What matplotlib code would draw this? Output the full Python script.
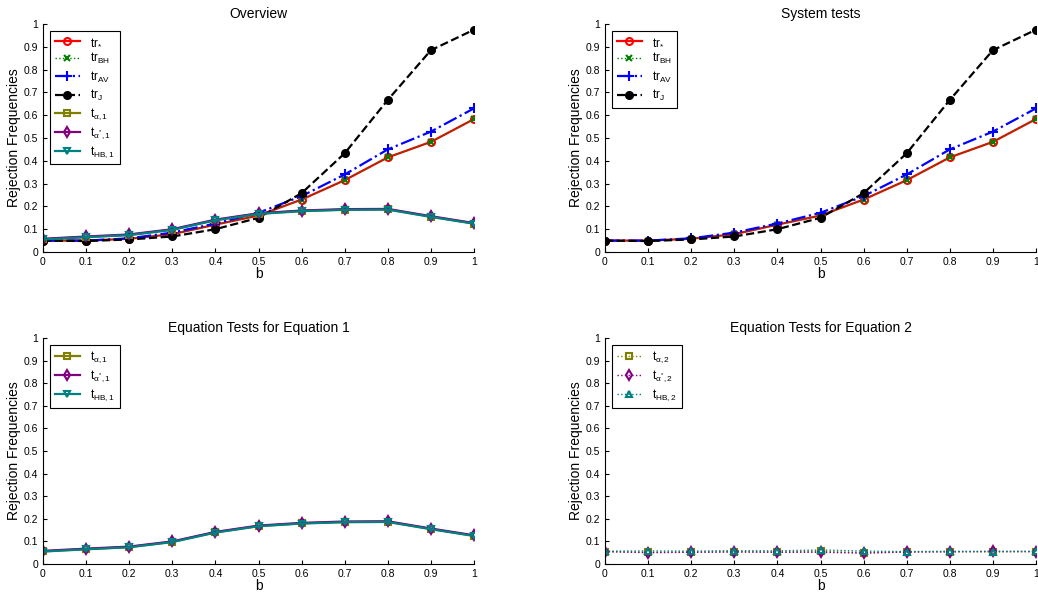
import matplotlib
matplotlib.use("Agg")
import matplotlib.pyplot as plt
import numpy as np

b = np.round(np.arange(0, 1.01, 0.1), 1)

# system test rejection frequencies
tr_star = [0.050, 0.050, 0.058, 0.078, 0.120, 0.160, 0.230, 0.315, 0.415, 0.483, 0.583]
tr_bh = [0.050, 0.050, 0.058, 0.078, 0.120, 0.160, 0.230, 0.315, 0.415, 0.483, 0.583]
tr_av = [0.050, 0.050, 0.060, 0.085, 0.125, 0.172, 0.245, 0.340, 0.450, 0.528, 0.630]
tr_j = [0.050, 0.048, 0.055, 0.068, 0.100, 0.150, 0.258, 0.433, 0.667, 0.885, 0.975]

# equation 1 tests
t_a1 = [0.056, 0.066, 0.075, 0.098, 0.140, 0.168, 0.180, 0.186, 0.187, 0.155, 0.125]
t_as1 = [0.058, 0.068, 0.077, 0.100, 0.142, 0.170, 0.182, 0.188, 0.189, 0.157, 0.127]
t_hb1 = [0.055, 0.065, 0.074, 0.097, 0.139, 0.167, 0.179, 0.185, 0.186, 0.154, 0.124]

# equation 2 tests
t_a2 = [0.055, 0.052, 0.053, 0.055, 0.053, 0.056, 0.050, 0.054, 0.055, 0.054, 0.055]
t_as2 = [0.055, 0.050, 0.052, 0.053, 0.052, 0.052, 0.048, 0.053, 0.054, 0.056, 0.055]
t_hb2 = [0.057, 0.058, 0.057, 0.059, 0.058, 0.062, 0.057, 0.055, 0.056, 0.055, 0.056]

plt.rcParams['font.family'] = ['Liberation Sans', 'DejaVu Sans']
plt.rcParams['mathtext.fontset'] = 'custom'
plt.rcParams['mathtext.rm'] = 'Liberation Sans'
plt.rcParams['mathtext.it'] = 'Liberation Sans'

OLIVE = '#808000'
PURPLE = '#800080'
TEAL = '#008080'

system_styles = [
    (tr_star, dict(color='red', ls='-', marker='o', mfc='none', label=r'tr$_{*}$')),
    (tr_bh, dict(color='green', ls=':', marker='x', ms=4, label=r'tr$_{\mathrm{BH}}$')),
    (tr_av, dict(color='blue', ls='-.', marker='+', ms=7, label=r'tr$_{\mathrm{AV}}$')),
    (tr_j, dict(color='black', ls='--', marker='o', mfc='black', label=r'tr$_{\mathrm{J}}$')),
]
eq1_styles = [
    (t_a1, dict(color=OLIVE, ls='-', marker='s', mfc='none', label=r't$_{\alpha,1}$')),
    (t_as1, dict(color=PURPLE, ls='-', marker='d', mfc='none', label=r't$_{\alpha^{*},1}$')),
    (t_hb1, dict(color=TEAL, ls='-', marker='v', mfc='none', label=r't$_{\mathrm{HB},1}$')),
]
eq2_styles = [
    (t_a2, dict(color=OLIVE, ls=':', marker='s', mfc='none', label=r't$_{\alpha,2}$')),
    (t_as2, dict(color=PURPLE, ls=':', marker='d', mfc='none', label=r't$_{\alpha^{*},2}$')),
    (t_hb2, dict(color=TEAL, ls=':', marker='^', mfc='none', label=r't$_{\mathrm{HB},2}$')),
]

fig = plt.figure(figsize=(10.38, 6.01), dpi=100)
W, H = 1038, 601
boxes = [
    (43, 24, 474, 252),
    (605, 24, 1036, 252),
    (43, 338, 474, 564),
    (605, 338, 1036, 564),
]
titles = ['Overview', 'System tests', 'Equation Tests for Equation 1',
          'Equation Tests for Equation 2']
panels = [system_styles + eq1_styles, system_styles, eq1_styles, eq2_styles]

for (x0, y0, x1, y1), title, series in zip(boxes, titles, panels):
    ax = fig.add_axes([x0 / W, 1 - y1 / H, (x1 - x0) / W, (y1 - y0) / H])
    for vals, kw in series:
        kw = dict(kw)
        kw.setdefault('ms', 5)
        lw = 1.0 if kw['ls'] == ':' else 1.6
        ax.plot(b, vals, lw=lw, mew=1.5, mec=kw['color'], **kw)
    ax.set_xlim(0, 1)
    ax.set_ylim(0, 1)
    ax.set_xticks(b)
    ax.set_xticklabels(['0'] + [f'{v:g}' for v in b[1:]])
    ax.set_yticks(b)
    ax.set_yticklabels(['0'] + [f'{v:g}' for v in b[1:]])
    ax.tick_params(direction='in', labelsize=7.5, length=3, width=0.8)
    ax.spines['top'].set_visible(False)
    ax.spines['right'].set_visible(False)
    ax.set_title(title, fontsize=10, pad=4)
    ax.set_xlabel('b', fontsize=10, labelpad=0)
    ax.set_ylabel('Rejection Frequencies', fontsize=10, labelpad=2)
    leg = ax.legend(loc='upper left', fontsize=8.5, fancybox=False, framealpha=1,
                    edgecolor='black', handlelength=2.1, borderaxespad=0.6,
                    labelspacing=0.28, handletextpad=0.9, borderpad=0.4)
    leg.get_frame().set_linewidth(0.8)

fig.savefig('out.png', dpi=100)
